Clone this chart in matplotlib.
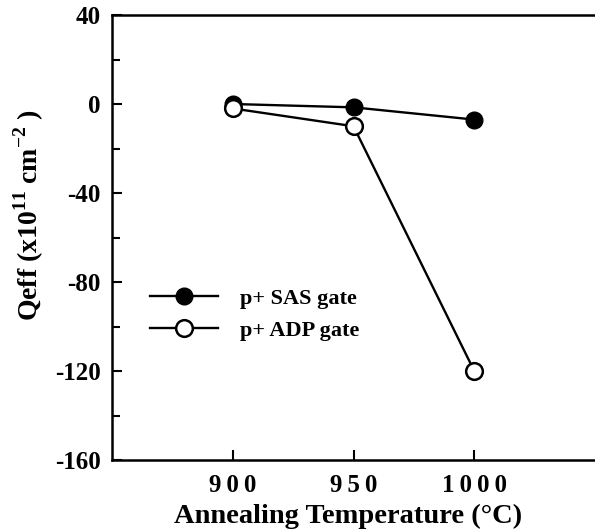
import matplotlib
matplotlib.use('Agg')
import matplotlib.pyplot as plt
from matplotlib.ticker import MultipleLocator

# data
temps = [900, 950, 1000]
sas_gate = [0, -1.5, -7]
adp_gate = [-2, -10, -120]
labels = ['p+ SAS gate', 'p+ ADP gate']
# the x tick labels are printed letter-spaced in the original
xtick_labels = ['\u2009'.join(str(t)) for t in temps]

plt.rcParams['font.family'] = 'Liberation Serif'
plt.rcParams['font.weight'] = 'bold'
plt.rcParams['axes.unicode_minus'] = False
plt.rcParams['mathtext.fontset'] = 'custom'
plt.rcParams['mathtext.rm'] = 'Liberation Serif:bold'
plt.rcParams['mathtext.bf'] = 'Liberation Serif:bold'

fig = plt.figure(figsize=(5.95, 5.32), dpi=100)
ax = fig.add_axes([112 / 595, 1 - 460 / 532, 1 - 112 / 595, 445 / 532])

ax.plot(temps, sas_gate, color='black', lw=1.7, marker='o', ms=12,
        mfc='black', mec='black', label=labels[0], zorder=3)
ax.plot(temps, adp_gate, color='black', lw=1.7, marker='o', ms=12,
        mfc='white', mec='black', mew=1.8, label=labels[1], zorder=4)

ax.set_xlim(850, 1050)
ax.set_ylim(-160, 40)
ax.set_xticks(temps, xtick_labels)
ax.yaxis.set_major_locator(MultipleLocator(40))
ax.yaxis.set_minor_locator(MultipleLocator(20))
ax.tick_params(axis='both', which='both', direction='in', width=1.5)
ax.tick_params(axis='both', which='major', length=7, labelsize=18)
ax.tick_params(axis='y', which='major', pad=8)
ax.tick_params(axis='x', which='major', pad=10)
ax.tick_params(axis='y', which='minor', length=6)
ax.tick_params(axis='y', which='both', right=False)

for s in ['left', 'top', 'bottom']:
    ax.spines[s].set_linewidth(1.8)
ax.spines['right'].set_visible(False)

ax.set_xlabel('Annealing Temperature (°C)', fontsize=20.5, fontweight='bold')
ax.xaxis.set_label_coords((348 - 112) / 483, -(504 - 460) / 445)
ax.xaxis.label.set_va('top')
ax.set_ylabel(r'Qeff (x10$^{11}$ cm$^{-2}$ )', fontsize=20, fontweight='bold')
ax.yaxis.set_label_coords((46 - 112) / 483, (460 - 215) / 445)

ax.legend(loc='center left', bbox_to_anchor=((150 - 112) / 483, (460 - 314.5) / 445),
          frameon=False, borderaxespad=0, borderpad=0,
          handlelength=3.05, handletextpad=1.0, labelspacing=0.5,
          prop={'weight': 'bold', 'size': 16})

fig.savefig('out.png', dpi=100)
